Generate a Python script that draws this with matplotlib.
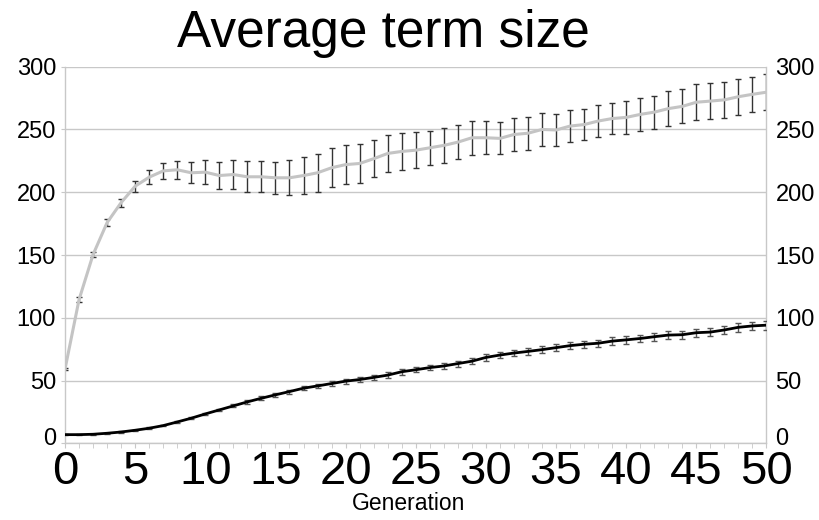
import matplotlib
matplotlib.use("Agg")
import matplotlib.pyplot as plt
from matplotlib.ticker import MultipleLocator
from matplotlib.transforms import ScaledTranslation

generations = list(range(51))

upper_mean = [59, 114.4, 150.3, 175.8, 191.7, 204.8, 212, 217, 217.9, 215.5,
              216, 213.3, 214.1, 212.3, 212.3, 211.5, 211.5, 213.3, 215.5, 219.5,
              222, 222.9, 226.7, 230.9, 232.5, 233.5, 235.4, 237.3, 239.9, 243.4,
              243.4, 242.9, 246, 247, 250, 249.6, 252.7, 253.9, 256.7, 258.7,
              259.6, 262, 263.8, 266.6, 268.4, 271.7, 272.6, 273.6, 276.1, 278, 279.7]
upper_err = [1, 2, 2, 2.6, 3.3, 4.5, 5.7, 6.6, 7.1, 8.2,
             9.7, 10.6, 11.4, 12.2, 12.2, 12.7, 13.9, 14.7, 15, 15.6,
             15.6, 15.3, 14.8, 14.9, 14.5, 14.3, 13.5, 14, 13.5, 13.7,
             13.3, 12.7, 13.5, 13, 13.2, 12.8, 12.7, 12.6, 13, 12.6,
             13, 13.2, 13.1, 13.9, 13.5, 14.2, 14.6, 14.2, 14.3, 14, 14.2]

lower_mean = [6.9, 6.9, 7.2, 8.0, 9.0, 10.4, 12.0, 14.1, 17.0, 20.0,
              23.4, 26.6, 29.8, 33.0, 35.9, 38.6, 41.2, 43.9, 45.7, 47.6,
              49.5, 50.8, 52.5, 54.3, 57.0, 58.6, 60.3, 61.6, 63.5, 65.4,
              68.4, 70.3, 71.9, 73.2, 74.6, 76.2, 77.8, 78.9, 79.7, 81.4,
              82.4, 83.5, 84.9, 86.2, 86.5, 88.1, 88.6, 90.3, 92.4, 93.5, 94.1]
lower_err = [0.3, 0.3, 0.3, 0.4, 0.4, 0.5, 0.6, 0.7, 0.8, 0.9,
             1.0, 1.1, 1.2, 1.3, 1.4, 1.5, 1.6, 1.7, 1.8, 1.9,
             2.0, 2.0, 2.1, 2.1, 2.2, 2.2, 2.3, 2.3, 2.4, 2.4,
             2.5, 2.5, 2.6, 2.6, 2.7, 2.7, 2.8, 2.8, 2.9, 2.9,
             3.0, 3.0, 3.1, 3.1, 3.2, 3.2, 3.3, 3.3, 3.4, 3.4, 3.5]

x_ticks = list(range(0, 51, 5))
y_ticks = list(range(0, 301, 50))

title_text = "Average term size"
x_label = "Generation"

plt.rcParams['font.family'] = ['Liberation Sans', 'DejaVu Sans']

fig = plt.figure(figsize=(8.2, 5.2), dpi=100)
ax = fig.add_axes([65 / 820, 1 - 443.3 / 520, (766.5 - 65) / 820, (443.3 - 66.7) / 520])

grid_c = "#c8c8c8"
ax.set_xlim(0, 50)
ax.set_ylim(0, 300)
ax.set_yticks(y_ticks)
ax.yaxis.grid(True, color=grid_c, lw=1)
ax.set_axisbelow(True)
for s in ["left", "right", "bottom"]:
    ax.spines[s].set_color(grid_c)
    ax.spines[s].set_linewidth(1)
ax.spines["top"].set_visible(False)

# upper series (grey line, dark error bars)
ax.errorbar(generations, upper_mean, yerr=upper_err, fmt='none', ecolor="#333333",
            elinewidth=1, capsize=2.3, capthick=1, zorder=2)
ax.plot(generations, upper_mean, color="#c4c4c4", lw=2.2, zorder=3)

# lower series (black line, grey error bars)
ax.errorbar(generations, lower_mean, yerr=lower_err, fmt='none', ecolor="#555555",
            elinewidth=1, capsize=2.3, capthick=1, zorder=4)
ax.plot(generations, lower_mean, color="black", lw=2, zorder=5)

ax.set_xticks(x_ticks)
ax.xaxis.set_minor_locator(MultipleLocator(1))
ax.tick_params(axis='x', which='both', direction='out', length=3.5, color=grid_c,
               pad=1.5)
ax.tick_params(axis='x', which='major', labelsize=34)

ax.tick_params(axis='y', which='major', direction='out', length=3, color=grid_c,
               labelsize=17, pad=3.5, right=False, labelright=True)

# the "0" labels on the value axes sit slightly above the baseline, as in the original
zero_tick = ax.yaxis.get_major_ticks()[0]
lift = ScaledTranslation(0, 7 / 100, fig.dpi_scale_trans)
for lab in (zero_tick.label1, zero_tick.label2):
    lab.set_transform(lab.get_transform() + lift)

fig.text(383 / 820, 1 - 47 / 520, title_text, fontsize=37, ha='center', va='baseline')
fig.text(409 / 820, 1 - 504 / 520, x_label, fontsize=16.5, ha='center', va='center')

fig.savefig("out.png", dpi=100)
